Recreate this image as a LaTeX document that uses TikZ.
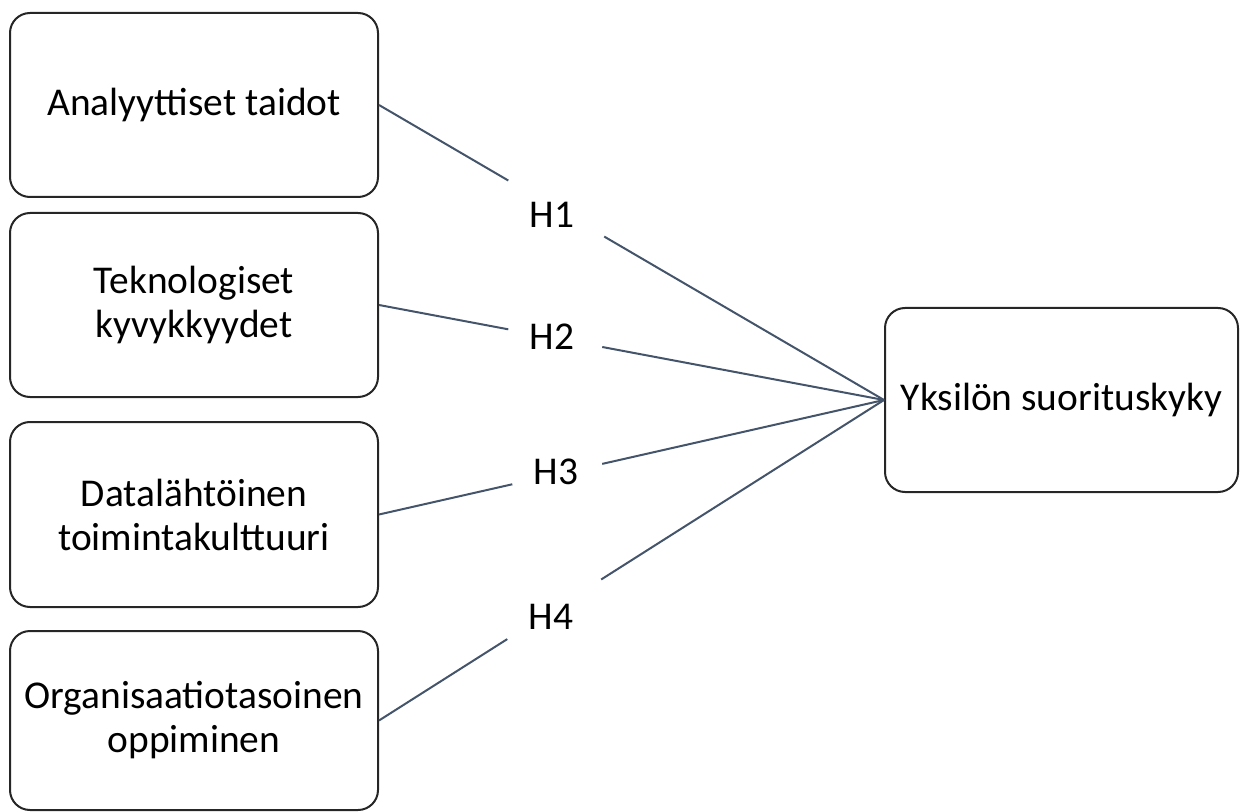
\documentclass[tikz,border=0pt]{standalone}
\usepackage{fontspec}
\setmainfont{Carlito}
\usetikzlibrary{calc}
\definecolor{linkcol}{HTML}{44546A}
\tikzstyle{factor}=[draw=black!85, line width=1pt, rounded corners=10pt, minimum width=184pt, align=center, inner sep=0pt, font=\fontsize{19.7}{22}\selectfont]
\tikzstyle{outcome}=[factor, minimum width=176.5pt, minimum height=92pt]
\tikzstyle{link}=[draw=linkcol, line width=1pt]
\tikzstyle{hyp}=[font=\fontsize{19.7}{22}\selectfont]

\begin{document}
\begin{tikzpicture}[x=0.5pt, y=-0.5pt]

    \useasboundingbox (0,0) rectangle (1241,812);

    \foreach \y/\h/\name/\txt in {105/92/ana/{Analyyttiset taidot}, 305/92/tek/{Teknologiset\\kyvykkyydet}, 514.5/92.5/data/{Datalähtöinen\\toimintakulttuuri}, 720.5/89.5/org/{Organisaatiotasoinen\\oppiminen}}
        \node[factor, minimum height=\h pt] (\name) at (194,\y) {\txt};

    \node[outcome] (perf) at (1061.5,400) {Yksilön suorituskyky};

    \foreach \src/\a/\b/\lab/\x/\y in {ana/0.256/0.446/H1/552/215, tek/0.256/0.442/H2/552/337, data/0.264/0.442/H3/556/472, org/0.254/0.440/H4/551/617}{
        \path (\src.east) -- coordinate[pos=\a] (\src-in) coordinate[pos=\b] (\src-out) (perf.west);
        \draw[link] (\src.east) -- (\src-in);
        \draw[link] (\src-out) -- (perf.west);
        \node[hyp] (h-\src) at (\x,\y) {\lab};
    }

\end{tikzpicture}
\end{document}
